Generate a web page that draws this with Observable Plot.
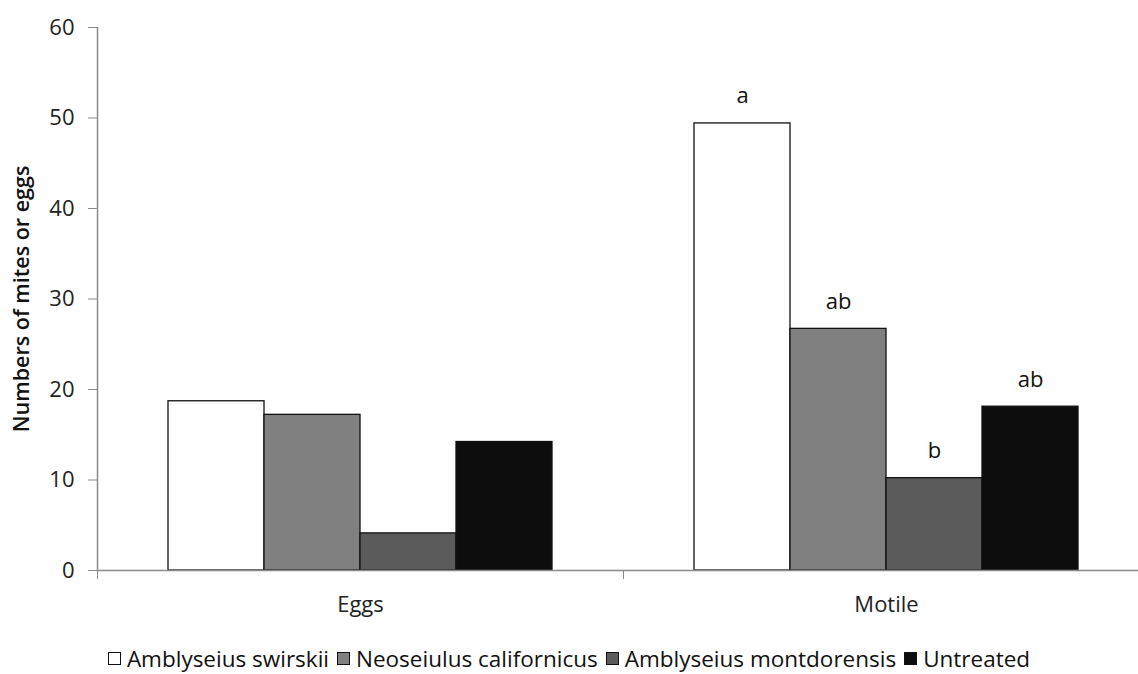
<!DOCTYPE html>
<html>
<head>
<meta charset="utf-8">
<script src="https://cdn.jsdelivr.net/npm/d3@7"></script>
<script src="https://cdn.jsdelivr.net/npm/@observablehq/plot@0.6"></script>
<style>
  html, body { margin: 0; padding: 0; background: #fff; overflow: hidden; }
  #chart { width: 1138px; }
  #legend { display: flex; justify-content: center; align-items: center; height: 54px; padding-top: 22px; box-sizing: border-box;
    font-family: "Open Sans", sans-serif; font-size: 22.5px; color: #111; white-space: nowrap; }
  .item { display: flex; align-items: center; margin: 0 4px; }
  .sw { width: 13px; height: 13px; border: 1px solid #111; margin-right: 6px; box-sizing: border-box; }
</style>
</head>
<body>
<div id="chart"></div>
<script>
const categories = ["Eggs", "Motile"];
const species = ["Amblyseius swirskii", "Neoseiulus californicus", "Amblyseius montdorensis", "Untreated"];
const eggsValues = [18.7, 17.2, 4.1, 14.2];
const motileValues = [49.4, 26.7, 10.2, 18.1];
const eggsLetters = ["", "", "", ""];
const motileLetters = ["a", "ab", "b", "ab"];
const yTicks = [0, 10, 20, 30, 40, 50, 60];
const colors = ["#ffffff", "#808080", "#5b5b5b", "#0d0d0d"];
const yLabel = "Numbers of mites or eggs";

const seriesByCat = [eggsValues, motileValues];
const lettersByCat = [eggsLetters, motileLetters];
const barW = 96 / 526; // bar width as fraction of a category band
const rows = [];
categories.forEach((c, i) => {
  species.forEach((s, k) => {
    const x1 = i + 0.5 + (k - 2) * barW;
    rows.push({cat: c, species: s, value: seriesByCat[i][k], letter: lettersByCat[i][k],
               x1, x2: x1 + barW, xc: x1 + barW / 2});
  });
});

const font = "Open Sans, sans-serif";
const chart = Plot.plot({
  width: 1138,
  height: 620,
  marginLeft: 97,
  marginRight: 0,
  marginTop: 27,
  marginBottom: 50,
  style: {fontFamily: font, background: "#fff", maxWidth: "none"},
  x: {domain: [0, 2], range: [97, 1149], axis: null},
  y: {domain: [0, 60], axis: null},
  color: {domain: species, range: colors},
  marks: [
    Plot.rectY(rows, {x1: "x1", x2: "x2", y: "value", fill: "species", stroke: "#111", strokeWidth: 1.3}),
    Plot.ruleY([0], {stroke: "#8a8a8a", strokeWidth: 1.5}),
    Plot.ruleX([0], {y1: 0, y2: 60, stroke: "#8a8a8a", strokeWidth: 1.5}),
    Plot.axisY({ticks: yTicks, tickSize: 9, tickPadding: 14, stroke: "#8a8a8a", fontSize: 22, fill: "#222", label: null, tickFormat: d => d}),
    Plot.axisX({ticks: [0, 1, 2], tickSize: 9, tickFormat: () => "", stroke: "#8a8a8a", label: null}),
    Plot.axisX({ticks: [0.5, 1.5], tickSize: 0, tickPadding: 26, fontSize: 22, fill: "#222", label: null,
                tickFormat: d => categories[Math.floor(d)]}),
    Plot.text(rows.filter(d => d.letter), {x: "xc", y: "value", text: "letter", dy: -27, fontSize: 22, fill: "#111", lineAnchor: "middle"}),
    Plot.text([yLabel], {frameAnchor: "left", textAnchor: "middle", rotate: -90, dx: -75, fontSize: 21.5, fontWeight: 600, fill: "#111"})
  ]
});
document.getElementById("chart").appendChild(chart);

const legend = document.createElement("div");
legend.id = "legend";
species.forEach((s, k) => {
  const it = document.createElement("div");
  it.className = "item";
  const sw = document.createElement("span");
  sw.className = "sw";
  sw.style.background = colors[k];
  const t = document.createElement("span");
  t.textContent = s;
  it.appendChild(sw); it.appendChild(t);
  legend.appendChild(it);
});
document.body.appendChild(legend);
</script>
</body>
</html>
